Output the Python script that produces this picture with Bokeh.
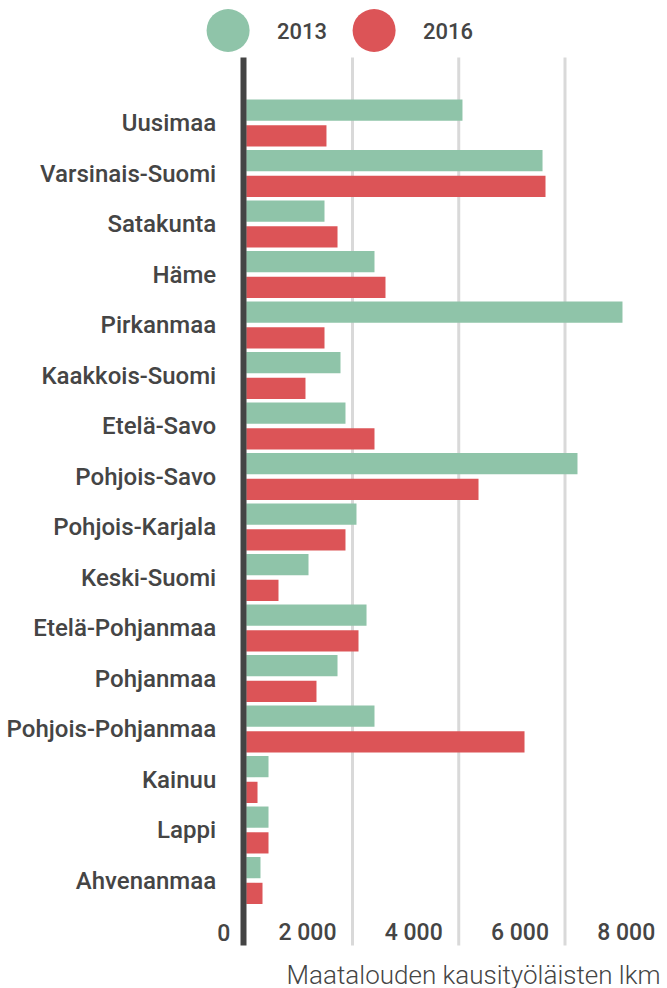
from bokeh.plotting import figure
from bokeh.models import ColumnDataSource, Range1d
from bokeh.embed import file_html
from bokeh.resources import INLINE
from bokeh.core.properties import value

regions = ["Uusimaa", "Varsinais-Suomi", "Satakunta", "Häme", "Pirkanmaa",
           "Kaakkois-Suomi", "Etelä-Savo", "Pohjois-Savo", "Pohjois-Karjala",
           "Keski-Suomi", "Etelä-Pohjanmaa", "Pohjanmaa", "Pohjois-Pohjanmaa",
           "Kainuu", "Lappi", "Ahvenanmaa"]
v2013 = [4070, 5577, 1473, 2414, 7082, 1774, 1868, 6235, 2075, 1172, 2264,
         1718, 2414, 419, 419, 268]
v2016 = [1510, 5633, 1718, 2621, 1473, 1115, 2414, 4372, 1868, 607, 2113,
         1322, 5238, 212, 419, 306]
series = ["2013", "2016"]
colors = ["#8fc4a9", "#dc5457"]
x_ticks = [0, 2000, 4000, 6000, 8000]
x_tick_labels = ["0", "2 000", "4 000", "6 000", "8 000"]
x_title = "Maatalouden kausityöläisten lkm"
source_title = "Tietolähteet:"

TEXT = "#454545"
FONT_MED = "Roboto Medium"
FONT_LIGHT = "Roboto Light"

W, H = 667, 988           # figure = frame (no borders)
# layout scale (figure pixels)
ZERO_PX = 245.75          # x pixel of value 0
PX_PER_UNIT = 106.25 / 2000
GROUP_PX = 50.5           # pixels per category
FIRST_PX = 122.5          # y pixel of first category centre
PLOT_TOP_PX, PLOT_BOT_PX = 57, 945


def xv(px):
    return (px - ZERO_PX) / PX_PER_UNIT


def yv(py):
    return (py - FIRST_PX) / GROUP_PX


p = figure(width=W, height=H, output_backend="svg", toolbar_location=None,
           x_range=Range1d(xv(0), xv(W)), y_range=Range1d(yv(H), yv(0)),
           min_border=0, outline_line_color=None)
p.axis.visible = False
p.grid.visible = False

ys = list(range(len(regions)))
src = ColumnDataSource(dict(
    y13=[y - 0.255 for y in ys], y16=[y + 0.255 for y in ys],
    v13=v2013, v16=v2016, name=regions, ly=ys))

# grid lines
p.segment(x0=x_ticks[1:], x1=x_ticks[1:], y0=yv(PLOT_TOP_PX),
          y1=yv(PLOT_BOT_PX), line_color="#d9d9d9", line_width=3)

p.hbar(y="y13", left=0, right="v13", height=0.42, source=src,
       fill_color=colors[0], line_color=None)
p.hbar(y="y16", left=0, right="v16", height=0.42, source=src,
       fill_color=colors[1], line_color=None)

# dark baseline
p.segment(x0=[xv(ZERO_PX - 2.75)], x1=[xv(ZERO_PX - 2.75)],
          y0=[yv(PLOT_TOP_PX)], y1=[yv(PLOT_BOT_PX)],
          line_color="#444444", line_width=6)

# category labels
p.text(x=0, y="ly", text="name", source=src, x_offset=-30,
       text_align="right", text_baseline="middle",
       text_font=value(FONT_MED), text_font_size="24px", text_color=TEXT)

# x tick labels
p.text(x=x_ticks, y=[yv(PLOT_BOT_PX - 13)] * len(x_ticks),
       text=x_tick_labels, x_offset=-16, text_align="right",
       text_baseline="middle", text_font=value(FONT_MED),
       text_font_size="23px", text_color=TEXT)

# axis title
p.text(x=[xv(660)], y=[yv(974)], text=[x_title], text_align="right",
       text_baseline="middle", text_font=value(FONT_LIGHT),
       text_font_size="26px", text_color=TEXT)

# source note (cut at bottom edge as in reference)
p.text(x=[xv(11)], y=[yv(999)], text=[source_title], text_align="left",
       text_baseline="alphabetic", text_font=value("Roboto"),
       text_font_style="bold", text_font_size="24px", text_color="#222222")

# legend
leg_x0, leg_step = 227.6, 146
for i, (s, c) in enumerate(zip(series, colors)):
    cx = leg_x0 + i * leg_step
    p.scatter(x=[xv(cx)], y=[yv(30)], size=43, marker="circle",
              fill_color=c, line_color=None)
    p.text(x=[xv(cx + 49)], y=[yv(30)], text=[s], text_font=value(FONT_MED),
           text_font_size="22px", text_color=TEXT, text_baseline="middle",
           text_align="left")

open("out.html", "w").write(file_html(p, INLINE))
